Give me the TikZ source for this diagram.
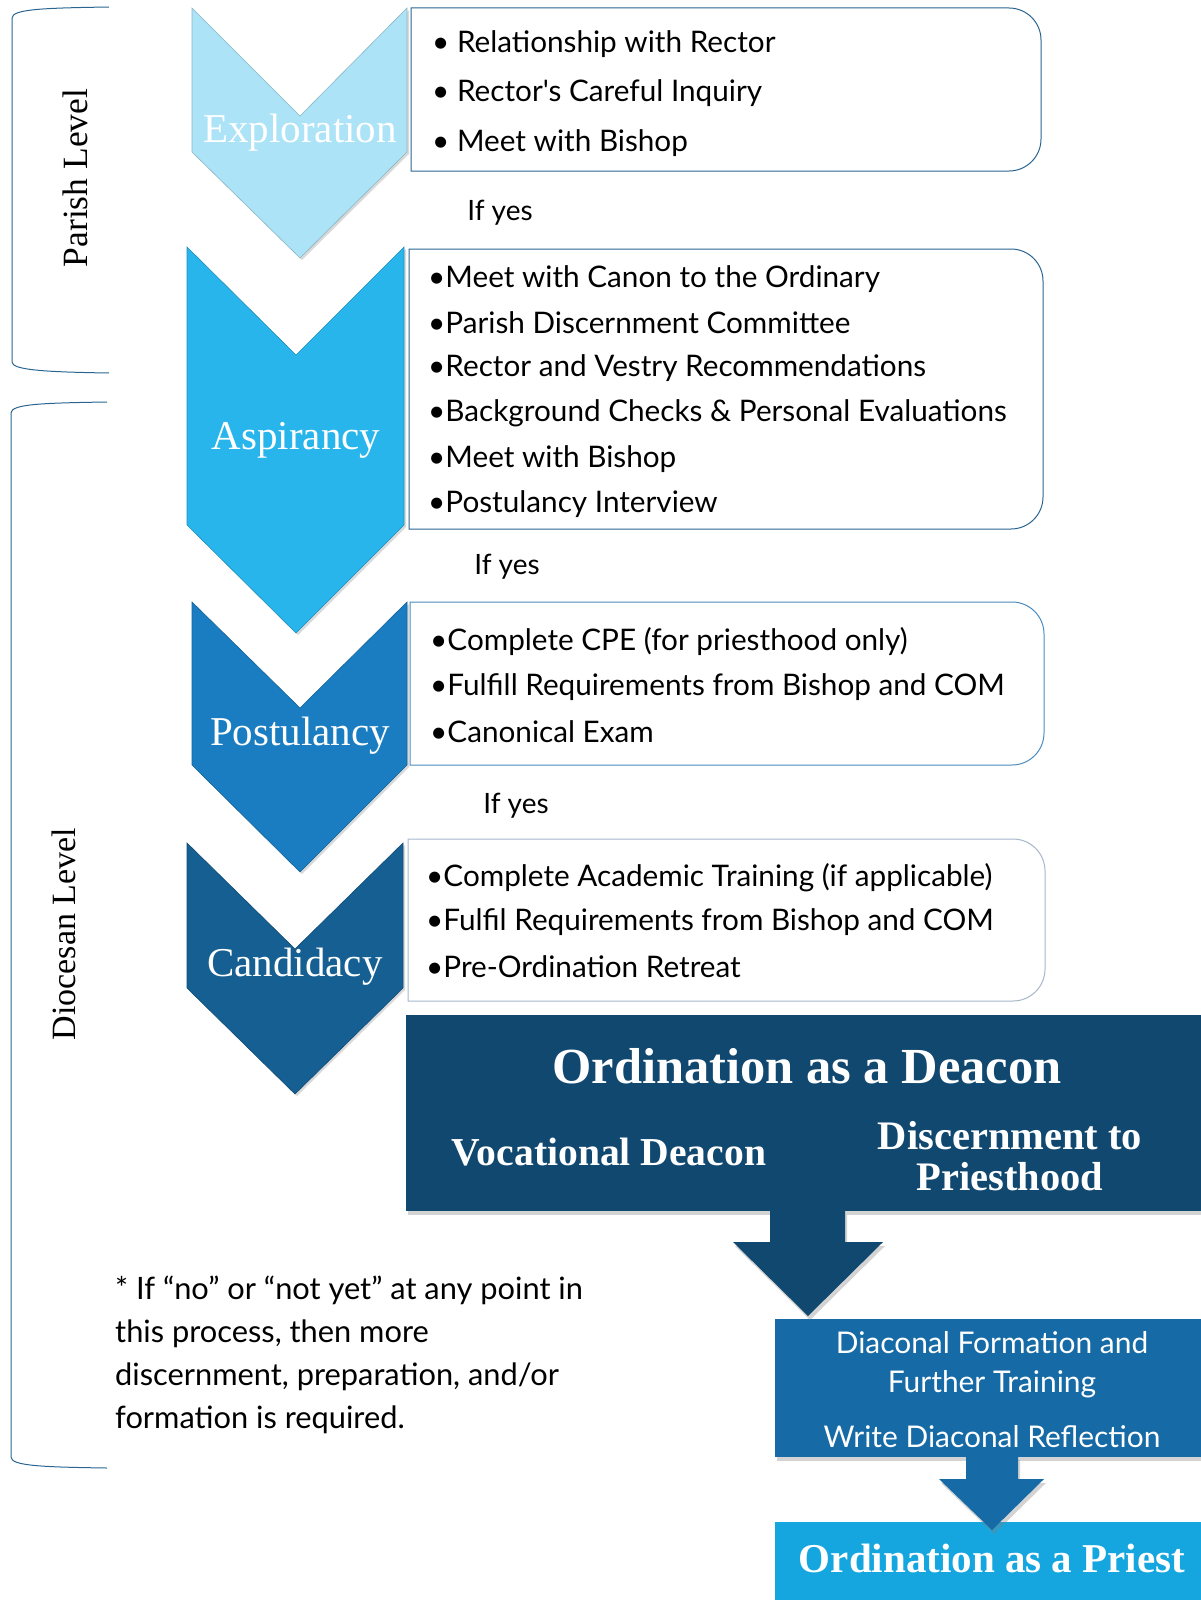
\documentclass[tikz,border=0pt]{standalone}
\usepackage{fontspec}
\setmainfont{Liberation Serif}
\newfontfamily\bodyf{Lato}
\usetikzlibrary{shadows}
\definecolor{cExp}{HTML}{ADE3F7}
\definecolor{cAsp}{HTML}{27B5EC}
\definecolor{cPos}{HTML}{1A7DC1}
\definecolor{cCan}{HTML}{155F92}
\definecolor{cDea}{HTML}{114870}
\definecolor{cFor}{HTML}{166AA5}
\definecolor{cPri}{HTML}{16A6DF}
\definecolor{cBrk}{HTML}{2A6591}
\definecolor{cB1}{HTML}{2A6591}
\definecolor{cB3}{HTML}{4A8BC0}
\definecolor{cB4}{HTML}{A6B7CB}
\def\boxr{32}
\newcommand\rrbox[5]{\draw[#1] (#2,#3) -- (#4-\boxr,#3) .. controls (#4-0.448*\boxr,#3) and (#4,#3+0.448*\boxr) .. (#4,#3+\boxr) -- (#4,#5-\boxr) .. controls (#4,#5-0.448*\boxr) and (#4-0.448*\boxr,#5) .. (#4-\boxr,#5) -- (#2,#5) -- cycle;}
\tikzset{
  chevshape/.style={fill=#1, draw=#1!80!black, line width=0.6pt,
    drop shadow={opacity=0.3, shadow xshift=2pt, shadow yshift=-2pt}},
  chevlabel/.style={text=white, font=\fontsize{41}{46}\selectfont, inner sep=0pt},
  item/.style={anchor=west, font=\bodyf\fontsize{29.7}{34}\selectfont, inner sep=0pt},
  listbox/.style={draw=#1, line width=1pt, fill=white},
  ifyes/.style={font=\bodyf\fontsize{28}{34}\selectfont, inner sep=0pt},
  level/.style={rotate=90, font=\fontsize{#1}{#1}\selectfont, inner sep=0pt},
  bracketline/.style={draw=cBrk, line width=1pt},
  bigbox/.style={fill=#1, drop shadow={opacity=0.35, shadow xshift=2pt, shadow yshift=-4pt}},
  serifw/.style={text=white, font=\bfseries\fontsize{#1}{#1}\selectfont, inner sep=0pt, align=center},
  sansw/.style={text=white, font=\bodyf\fontsize{29.9}{39}\selectfont, inner sep=0pt, align=center}
}
\begin{document}
\begin{tikzpicture}[x=1pt,y=-1pt]
\useasboundingbox (0,0) rectangle (1201,1600);

% brackets
\draw[bracketline] (109,7) .. controls (45,8) and (12,9) .. (12,18) -- (12,362) .. controls (12,370) and (45,372) .. (109,373);
\draw[bracketline] (107,402) .. controls (43,403) and (11,404) .. (11,413) -- (11,1457) .. controls (11,1466) and (43,1467) .. (107,1468);
\node[level=35.5] (parish) at (75,178) {Parish Level};
\node[level=34] (diocesan) at (64,934) {Diocesan Level};

% chevrons
\path[chevshape=cExp] (192,8) -- (300,116) -- (407,8) -- (407,152) -- (300,258) -- (192,152) -- cycle;
\path[chevshape=cAsp] (187,247) -- (296,355) -- (404,247) -- (404,525) -- (296,633) -- (187,525) -- cycle;
\path[chevshape=cPos] (192,602) -- (300,708) -- (407,602) -- (407,765) -- (300,872) -- (192,765) -- cycle;
\path[chevshape=cCan] (187,843) -- (295,949) -- (403,843) -- (403,988) -- (295,1094) -- (187,988) -- cycle;
\node[chevlabel] (exp) at (300,133) {Exploration};
\node[chevlabel] (asp) at (296,440) {Aspirancy};
\node[chevlabel] (pos) at (300,736) {Postulancy};
\node[chevlabel] (can) at (295,967) {Candidacy};

% list boxes
\rrbox{listbox=cB1}{411}{8}{1041}{171}
\rrbox{listbox=cB1}{409}{249}{1043}{529}
\rrbox{listbox=cB3}{410}{602}{1044}{765}
\rrbox{listbox=cB4}{408}{839}{1045}{1001}

\node[item] (e1) at (432,44) {• Relationship with Rector};
\node[item] (e2) at (432,93) {• Rector's Careful Inquiry};
\node[item] (e3) at (432,143) {• Meet with Bishop};

\node[item] (a1) at (428,279) {•Meet with Canon to the Ordinary};
\node[item] (a2) at (428,323) {•Parish Discernment Committee};
\node[item] (a3) at (428,368) {•Rector and Vestry Recommendations};
\node[item] (a4) at (428,413) {•Background Checks \& Personal Evaluations};
\node[item] (a5) at (428,459) {•Meet with Bishop};
\node[item] (a6) at (428,504) {•Postulancy Interview};

\node[item] (p1) at (430,642) {•Complete CPE (for priesthood only)};
\node[item] (p2) at (430,687) {•Fulfill Requirements from Bishop and COM};
\node[item] (p3) at (430,732) {•Canonical Exam};

\node[item] (c1) at (426,878) {•Complete Academic Training (if applicable)};
\node[item] (c2) at (426,922) {•Fulfil Requirements from Bishop and COM};
\node[item] (c3) at (426,967) {•Pre-Ordination Retreat};

\node[ifyes] (y1) at (500,213) {If yes};
\node[ifyes] (y2) at (507,567) {If yes};
\node[ifyes] (y3) at (516,806) {If yes};

% ordination as deacon
\path[bigbox=cDea] (406,1015) rectangle (1201,1211);
\node[serifw=50.5] (deacon) at (807,1066) {Ordination as a Deacon};
\node[serifw=39.6] (voc) at (609,1152) {Vocational Deacon};
\node[serifw=40.5, font=\bfseries\fontsize{40.5}{41}\selectfont] (disc) at (1010,1156) {Discernment to\\Priesthood};

% formation
\path[bigbox=cFor] (775,1319) rectangle (1201,1457);
\path[bigbox=cDea] (770,1211) -- (845,1211) -- (845,1242) -- (883,1242) -- (808,1316) -- (733,1242) -- (770,1242) -- cycle;
\node[sansw] (form) at (992,1365) {Diaconal Formation and\\Further Training};
\node[sansw] (refl) at (992,1437) {Write Diaconal Reflection};

% priest
\fill[cPri] (775,1522) rectangle (1201,1600);
\path[bigbox=cFor] (966,1456) -- (1018,1456) -- (1018,1479) -- (1044,1479) -- (992,1530) -- (939,1479) -- (966,1479) -- cycle;
\node[serifw=41] (priest) at (992,1558) {Ordination as a Priest};

% footnote
\node[anchor=north west, align=left, font=\bodyf\fontsize{30.8}{43}\selectfont, inner sep=0pt] (note) at (115,1276) {* If “no” or “not yet” at any point in\\this process, then more\\discernment, preparation, and/or\\formation is required.};
\end{tikzpicture}
\end{document}
